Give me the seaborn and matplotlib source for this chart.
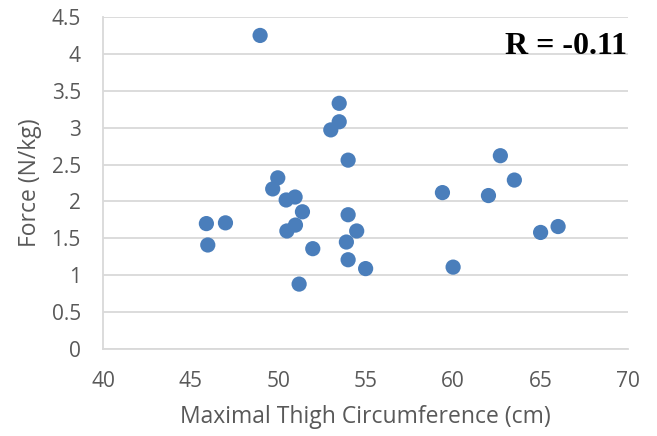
import matplotlib
matplotlib.use("Agg")
import matplotlib.pyplot as plt
import seaborn as sns
import pandas as pd

thigh_cm = [48.97, 45.9, 45.98, 46.99, 49.69, 49.98, 50.46, 50.97, 51.39, 50.5,
            50.99, 51.2, 51.98, 53.01, 53.49, 53.49, 54.0, 54.0, 54.49, 53.9,
            54.0, 55.0, 59.39, 60.0, 62.02, 62.7, 63.5, 65.0, 66.0]
force_nkg = [4.25, 1.70, 1.41, 1.71, 2.17, 2.32, 2.02, 2.06, 1.86, 1.60,
             1.68, 0.88, 1.36, 2.97, 3.08, 3.33, 2.56, 1.82, 1.60, 1.45,
             1.21, 1.09, 2.12, 1.11, 2.08, 2.62, 2.29, 1.58, 1.66]
x_ticks = [40, 45, 50, 55, 60, 65, 70]
y_ticks = [0, 0.5, 1, 1.5, 2, 2.5, 3, 3.5, 4, 4.5]
y_tick_labels = ["0", "0.5", "1", "1.5", "2", "2.5", "3", "3.5", "4", "4.5"]
x_label = "Maximal Thigh Circumference (cm)"
y_label = "Force (N/kg)"
r_text = "R = -0.11"

df = pd.DataFrame({"x": thigh_cm, "y": force_nkg})

sns.set_style("white")
plt.rcParams["font.family"] = ["Open Sans", "DejaVu Sans"]

fig = plt.figure(figsize=(6.57, 4.36), dpi=100)
ax = fig.add_axes([0.157, 0.1995, 0.799, 0.7615])

sns.scatterplot(data=df, x="x", y="y", ax=ax, s=120, color="#4A7EBB",
                edgecolor="none", linewidth=0, zorder=3)

ax.set_xlim(40, 70)
ax.set_ylim(0, 4.5)
ax.set_xticks(x_ticks)
ax.set_yticks(y_ticks)
ax.set_yticklabels(y_tick_labels)
ax.grid(axis="y", color="#d9d9d9", linewidth=1.3, zorder=0)
ax.grid(axis="x", visible=False)
for s in ["top", "right"]:
    ax.spines[s].set_visible(False)
for s in ["left", "bottom"]:
    ax.spines[s].set_color("#d9d9d9")
    ax.spines[s].set_linewidth(1.3)
ax.tick_params(axis="both", length=0, labelsize=15, labelcolor="#595959")
ax.tick_params(axis="x", pad=16)
ax.tick_params(axis="y", pad=16)
ax.set_xlabel(x_label, fontsize=16.5, color="#595959", labelpad=9)
ax.set_ylabel(y_label, fontsize=16.5, color="#595959", labelpad=7)

ax.text(0.998, 0.955, r_text, transform=ax.transAxes, ha="right", va="top",
        fontsize=23, fontweight="bold", family="Liberation Serif", color="black")

fig.savefig("out.png", dpi=100)
